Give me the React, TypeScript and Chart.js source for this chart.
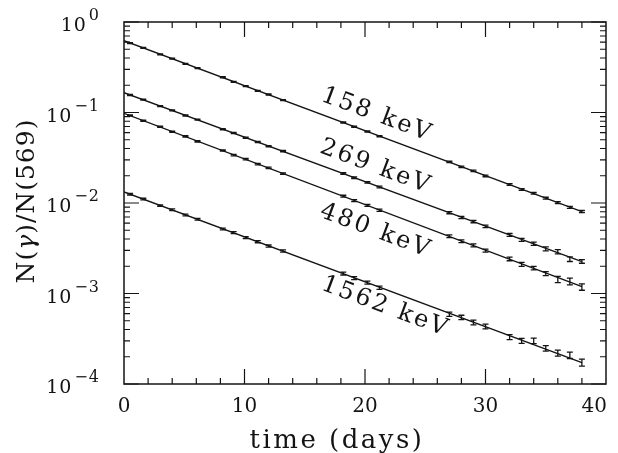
import React, { useEffect, useRef } from "react";
import { Chart, registerables } from "chart.js";

Chart.register(...registerables);

// ---------- data ----------
const days = [0.5, 1.6, 3, 4, 5.1, 6.1, 8.2, 9.1, 10.1, 11.1, 12, 13.2, 18.2, 19.1, 20.2, 21.2, 27, 28, 29, 30, 32, 33, 34, 35, 36, 37, 38];

const ratio158 = [0.584, 0.519, 0.438, 0.395, 0.344, 0.310, 0.245, 0.218, 0.196, 0.173, 0.158, 0.137, 0.0776, 0.0695, 0.0618, 0.0546, 0.0284, 0.0251, 0.0226, 0.0199, 0.0160, 0.0141, 0.0128, 0.0113, 0.0101, 0.00895, 0.00805];
const ratio269 = [0.1560, 0.1385, 0.1175, 0.1057, 0.0925, 0.0834, 0.0652, 0.0594, 0.0526, 0.0473, 0.0424, 0.0374, 0.0212, 0.0190, 0.0169, 0.0150, 0.00783, 0.00692, 0.00624, 0.00551, 0.00444, 0.00392, 0.00355, 0.00312, 0.00290, 0.00240, 0.00226];
const ratio480 = [0.0926, 0.0810, 0.0694, 0.0614, 0.0545, 0.0480, 0.0380, 0.0338, 0.0305, 0.0269, 0.0244, 0.0211, 0.01190, 0.01062, 0.00942, 0.00832, 0.00429, 0.00378, 0.00340, 0.00298, 0.00241, 0.00210, 0.00191, 0.00166, 0.00143, 0.00136, 0.00118];
const ratio1562 = [0.01248, 0.01106, 0.00937, 0.00842, 0.00736, 0.00661, 0.00516, 0.00470, 0.00415, 0.00374, 0.00334, 0.00295, 0.00166, 0.00148, 0.00132, 0.00116, 0.000590, 0.000545, 0.000478, 0.000432, 0.000330, 0.000300, 0.000300, 0.000248, 0.000220, 0.000208, 0.000173];

// fractional (relative) errors
const err158 = [0.012, 0.012, 0.012, 0.012, 0.012, 0.012, 0.013, 0.013, 0.013, 0.013, 0.014, 0.014, 0.015, 0.015, 0.016, 0.016, 0.018, 0.019, 0.019, 0.02, 0.022, 0.022, 0.023, 0.024, 0.025, 0.026, 0.027];
const err269 = [0.013, 0.013, 0.013, 0.013, 0.014, 0.014, 0.015, 0.015, 0.015, 0.016, 0.016, 0.017, 0.02, 0.02, 0.021, 0.022, 0.028, 0.03, 0.03, 0.032, 0.036, 0.038, 0.04, 0.05, 0.055, 0.06, 0.045];
const err480 = [0.015, 0.015, 0.015, 0.016, 0.016, 0.016, 0.017, 0.018, 0.018, 0.018, 0.019, 0.02, 0.024, 0.025, 0.026, 0.027, 0.034, 0.036, 0.038, 0.04, 0.045, 0.05, 0.045, 0.05, 0.08, 0.085, 0.08];
const err1562 = [0.02, 0.02, 0.02, 0.021, 0.022, 0.022, 0.024, 0.025, 0.026, 0.027, 0.028, 0.03, 0.036, 0.038, 0.04, 0.042, 0.055, 0.055, 0.06, 0.06, 0.065, 0.065, 0.07, 0.07, 0.075, 0.08, 0.09];

// exponential fit lines (straight on log axis): values at the two end days
const fitDays = [0, 38];
const fit158 = [0.621, 0.00802];
const fit269 = [0.1655, 0.00225];
const fit480 = [0.098, 0.00119];
const fit1562 = [0.01324, 0.000172];

const seriesLabels = ["158 keV", "269 keV", "480 keV", "1562 keV"];
const labelDays = [21.0, 20.9, 20.9, 21.7];
const labelValues = [0.0938, 0.025, 0.0049, 0.00071];

const xTickValues = [0, 10, 20, 30, 40];
const yTickExponents = [0, -1, -2, -3, -4];
const xTitle = "time (days)";

// ---------- styles ----------
const INK = "#141414";
const SERIF = '"DejaVu Serif", serif';

const seriesValues = [ratio158, ratio269, ratio480, ratio1562];
const seriesErrors = [err158, err269, err480, err1562];
const seriesFits = [fit158, fit269, fit480, fit1562];

function measureParts(ctx: CanvasRenderingContext2D, parts: { t: string; font: string }[], spacing: string) {
  let w = 0;
  const widths: number[] = [];
  for (const p of parts) {
    ctx.font = p.font;
    (ctx as any).letterSpacing = spacing;
    const mw = ctx.measureText(p.t).width;
    widths.push(mw);
    w += mw;
  }
  return { w, widths };
}

const decorPlugin = {
  id: "decor",
  afterDatasetsDraw(chart: any) {
    const { ctx, chartArea: a, scales } = chart;
    const x = scales.x;
    const y = scales.y;
    ctx.save();
    ctx.strokeStyle = INK;
    ctx.fillStyle = INK;
    ctx.lineWidth = 1.3;

    // error bars
    chart.data.datasets.forEach((ds: any) => {
      if (!ds.errors) return;
      ds.data.forEach((p: any, j: number) => {
        const e = ds.errors[j];
        const px = x.getPixelForValue(p.x);
        const y1 = y.getPixelForValue(p.y * (1 + e));
        const y2 = y.getPixelForValue(p.y * (1 - e));
        ctx.beginPath();
        ctx.moveTo(px, y1);
        ctx.lineTo(px, y2);
        ctx.moveTo(px - 3, y1);
        ctx.lineTo(px + 3, y1);
        ctx.moveTo(px - 3, y2);
        ctx.lineTo(px + 3, y2);
        ctx.stroke();
      });
    });

    // frame
    ctx.lineWidth = 1.5;
    ctx.strokeRect(a.left, a.top, a.right - a.left, a.bottom - a.top);

    // y ticks (log, inward, both sides)
    ctx.lineWidth = 1.2;
    ctx.beginPath();
    for (let k = -4; k <= 0; k++) {
      for (let m = 1; m <= 9; m++) {
        if (k === 0 && m > 1) break;
        const v = m * Math.pow(10, k);
        const py = y.getPixelForValue(v);
        const len = m === 1 ? 15 : 6;
        ctx.moveTo(a.left, py);
        ctx.lineTo(a.left + len, py);
        ctx.moveTo(a.right, py);
        ctx.lineTo(a.right - len, py);
      }
    }
    // x ticks every 2 days, inward, top and bottom
    for (let d = 2; d < 40; d += 2) {
      const px = x.getPixelForValue(d);
      const len = d % 10 === 0 ? 15 : 6;
      ctx.moveTo(px, a.bottom);
      ctx.lineTo(px, a.bottom - len);
      ctx.moveTo(px, a.top);
      ctx.lineTo(px, a.top + len);
    }
    ctx.stroke();

    // x tick labels
    ctx.font = `20px ${SERIF}`;
    ctx.textBaseline = "alphabetic";
    ctx.textAlign = "center";
    xTickValues.forEach((v) => {
      const s = String(v);
      const w = ctx.measureText(s).width;
      let cx = x.getPixelForValue(v);
      if (cx + w / 2 > a.right + 1) cx = a.right + 1 - w / 2;
      ctx.fillText(s, cx, a.bottom + 28);
    });

    // y tick labels 10^k
    yTickExponents.forEach((k) => {
      const py = y.getPixelForValue(Math.pow(10, k));
      const sup = k === 0 ? "0" : "\u2212" + String(-k);
      (ctx as any).letterSpacing = "1px";
      ctx.font = `16px ${SERIF}`;
      const sw = ctx.measureText(sup).width;
      ctx.font = `19px ${SERIF}`;
      const bw = ctx.measureText("10").width;
      const right = a.left - 24;
      ctx.textAlign = "left";
      ctx.fillText("10", right - sw - 2 - bw, py + 9);
      ctx.font = `16px ${SERIF}`;
      ctx.fillText(sup, right - sw, py - 2);
    });
    (ctx as any).letterSpacing = "0px";

    // series labels, rotated along the fit lines
    const f = seriesFits[0];
    const ang = Math.atan2(
      y.getPixelForValue(f[1]) - y.getPixelForValue(f[0]),
      x.getPixelForValue(fitDays[1]) - x.getPixelForValue(fitDays[0])
    );
    ctx.font = `24px ${SERIF}`;
    (ctx as any).letterSpacing = "2.5px";
    ctx.textAlign = "center";
    ctx.textBaseline = "middle";
    seriesLabels.forEach((lab, i) => {
      const px = x.getPixelForValue(labelDays[i]);
      const py = y.getPixelForValue(labelValues[i]);
      ctx.save();
      ctx.translate(px, py);
      ctx.rotate(ang);
      ctx.fillText(lab, 0, 0);
      ctx.restore();
    });

    // x title
    ctx.font = `26px ${SERIF}`;
    (ctx as any).letterSpacing = "2.5px";
    ctx.textAlign = "center";
    ctx.textBaseline = "alphabetic";
    ctx.fillText(xTitle, 337, 448);

    // y title: N(γ)/N(569) with italic gamma
    const parts = [
      { t: "N(", font: `25px ${SERIF}` },
      { t: "\u03b3", font: `italic 25px ${SERIF}` },
      { t: ")/N(569)", font: `25px ${SERIF}` },
    ];
    const spacing = "1px";
    const { w, widths } = measureParts(ctx, parts, spacing);
    ctx.save();
    ctx.translate(34, 201);
    ctx.rotate(-Math.PI / 2);
    ctx.textAlign = "left";
    let cx = -w / 2;
    parts.forEach((p, i) => {
      ctx.font = p.font;
      (ctx as any).letterSpacing = spacing;
      ctx.fillText(p.t, cx, 0);
      cx += widths[i];
    });
    ctx.restore();

    (ctx as any).letterSpacing = "0px";
    ctx.restore();
  },
};

export default function App() {
  const ref = useRef<HTMLCanvasElement | null>(null);

  useEffect(() => {
    if (!ref.current) return;
    const datasets: any[] = [];
    seriesValues.forEach((vals, i) => {
      datasets.push({
        type: "line",
        label: seriesLabels[i] + " fit",
        data: fitDays.map((d, j) => ({ x: d, y: seriesFits[i][j] })),
        borderColor: INK,
        borderWidth: 1.3,
        pointRadius: 0,
        fill: false,
        tension: 0,
      });
      datasets.push({
        type: "scatter",
        label: seriesLabels[i],
        data: days.map((d, j) => ({ x: d, y: vals[j] })),
        errors: seriesErrors[i],
        pointRadius: 0,
        showLine: false,
      });
    });

    const chart = new Chart(ref.current, {
      type: "line",
      data: { datasets },
      options: {
        animation: false,
        responsive: false,
        maintainAspectRatio: false,
        layout: { padding: { left: 124, right: 12, top: 22, bottom: 69 } },
        plugins: { legend: { display: false }, tooltip: { enabled: false } },
        scales: {
          x: { type: "linear", min: 0, max: 40, display: false },
          y: { type: "logarithmic", min: 1e-4, max: 1, display: false },
        },
      },
      plugins: [decorPlugin],
    } as any);
    return () => chart.destroy();
  }, []);

  return (
    <div style={{ position: "fixed", left: 0, top: 0, width: 618, height: 453, background: "#fff" }}>
      <canvas ref={ref} width={618} height={453} style={{ display: "block" }} />
    </div>
  );
}
